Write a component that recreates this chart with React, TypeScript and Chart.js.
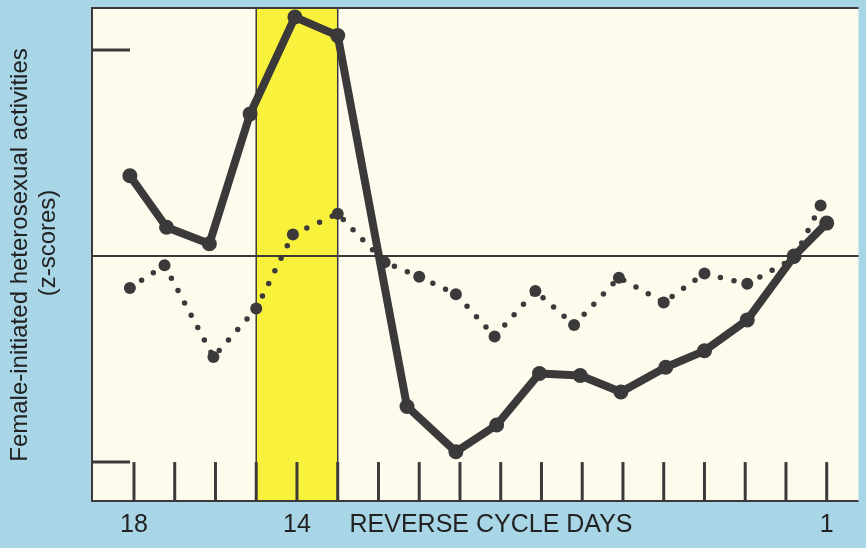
import React, { useEffect, useRef } from "react";
import { Chart, registerables } from "chart.js";

Chart.register(...registerables);

// Reverse cycle days (18 ... 1)
const cycleDays = [18, 17, 16, 15, 14, 13, 12, 11, 10, 9, 8, 7, 6, 5, 4, 3, 2, 1];
const labeledDays = [18, 14, 1];
const xAxisTitle = "REVERSE CYCLE DAYS";
const yTitleLine1 = "Female-initiated heterosexual activities";
const yTitleLine2 = "(z-scores)";

// Solid series (positions as drawn on the day axis) and z-scores
const solidDays = [18.1, 17.2, 16.15, 15.15, 14.05, 13.0, 11.3, 10.1, 9.1, 8.05, 7.05, 6.05, 4.95, 4.0, 2.95, 1.8, 1.0];
const solidZ = [0.39, 0.14, 0.06, 0.69, 1.16, 1.07, -0.73, -0.95, -0.82, -0.57, -0.58, -0.66, -0.54, -0.46, -0.31, 0.0, 0.16];

// Dotted series
const dottedDays = [18.1, 17.25, 16.05, 15.0, 14.1, 13.0, 11.85, 11.0, 10.1, 9.15, 8.15, 7.2, 6.1, 5.0, 4.0, 2.95, 1.8, 1.15];
const dottedZ = [-0.155, -0.045, -0.49, -0.255, 0.105, 0.205, -0.03, -0.1, -0.185, -0.39, -0.17, -0.335, -0.105, -0.225, -0.085, -0.135, -0.01, 0.245];

// Highlighted band (days) and z reference marks
const bandDays = [15, 13];
const zMarks = [1, -1];

const BLUE = "#a8d6e6";
const CREAM = "#fdfbec";
const YELLOW = "#f9f23c";
const INK = "#3b393a";
const TEXT = "#222222";
const FONT = "'Liberation Sans', Arial, sans-serif";

const decorPlugin = {
  id: "decor",
  beforeDraw(chart: any) {
    const { ctx, chartArea: a, scales } = chart;
    const x = scales.x;
    ctx.save();
    ctx.fillStyle = BLUE;
    ctx.fillRect(0, 0, chart.width, chart.height);
    ctx.fillStyle = CREAM;
    ctx.fillRect(a.left, a.top, a.right - a.left, a.bottom - a.top);
    const b1 = x.getPixelForValue(bandDays[0]);
    const b2 = x.getPixelForValue(bandDays[1]);
    ctx.fillStyle = YELLOW;
    ctx.fillRect(Math.min(b1, b2), a.top, Math.abs(b2 - b1), a.bottom - a.top);
    ctx.restore();
  },
  beforeDatasetsDraw(chart: any) {
    const { ctx, chartArea: a, scales } = chart;
    const x = scales.x;
    const y = scales.y;
    ctx.save();
    ctx.strokeStyle = INK;
    // band edges
    ctx.lineWidth = 1.5;
    bandDays.forEach((d) => {
      const px = x.getPixelForValue(d);
      ctx.beginPath();
      ctx.moveTo(px, a.top);
      ctx.lineTo(px, a.bottom);
      ctx.stroke();
    });
    // frame (left, top, bottom)
    ctx.lineWidth = 2;
    ctx.beginPath();
    ctx.moveTo(a.right, a.top);
    ctx.lineTo(a.left, a.top);
    ctx.lineTo(a.left, a.bottom);
    ctx.lineTo(a.right, a.bottom);
    ctx.stroke();
    // zero line
    const y0 = y.getPixelForValue(0);
    ctx.lineWidth = 2;
    ctx.beginPath();
    ctx.moveTo(a.left, y0);
    ctx.lineTo(a.right, y0);
    ctx.stroke();
    // z marks on left
    const yLow = y.getPixelForValue(Math.min(...zMarks));
    ctx.lineWidth = 3;
    zMarks.forEach((z) => {
      const py = y.getPixelForValue(z);
      ctx.beginPath();
      ctx.moveTo(a.left, py);
      ctx.lineTo(a.left + 38, py);
      ctx.stroke();
    });
    // day ticks
    cycleDays.forEach((d) => {
      const px = x.getPixelForValue(d);
      ctx.beginPath();
      ctx.moveTo(px, yLow);
      ctx.lineTo(px, a.bottom);
      ctx.stroke();
    });
    ctx.restore();
  },
  afterDraw(chart: any) {
    const { ctx, chartArea: a, scales } = chart;
    const x = scales.x;
    ctx.save();
    ctx.fillStyle = TEXT;
    ctx.font = `25px ${FONT}`;
    ctx.textBaseline = "alphabetic";
    ctx.textAlign = "center";
    const baseY = a.bottom + 31;
    labeledDays.forEach((d) => {
      ctx.fillText(String(d), x.getPixelForValue(d), baseY);
    });
    ctx.fillText(xAxisTitle, 491, baseY);
    // y title
    ctx.font = `24px ${FONT}`;
    ctx.textBaseline = "alphabetic";
    ctx.save();
    ctx.translate(27, 255);
    ctx.rotate(-Math.PI / 2);
    ctx.fillText(yTitleLine1, 0, 0);
    ctx.restore();
    ctx.save();
    ctx.translate(55, 243);
    ctx.rotate(-Math.PI / 2);
    ctx.fillText(yTitleLine2, 0, 0);
    ctx.restore();
    ctx.restore();
  },
};

export default function App() {
  const ref = useRef<HTMLCanvasElement | null>(null);
  useEffect(() => {
    if (!ref.current) return;
    const chart = new Chart(ref.current, {
      type: "line",
      data: {
        datasets: [
          {
            label: "solid",
            data: solidDays.map((d, i) => ({ x: d, y: solidZ[i] })),
            borderColor: INK,
            backgroundColor: INK,
            borderWidth: 8,
            borderJoinStyle: "round",
            borderCapStyle: "round",
            pointRadius: 7.5,
            pointBorderWidth: 0,
            pointBackgroundColor: INK,
            tension: 0,
          },
          {
            label: "dotted",
            data: dottedDays.map((d, i) => ({ x: d, y: dottedZ[i] })),
            borderColor: INK,
            backgroundColor: INK,
            borderWidth: 5.5,
            borderDash: [0, 14],
            borderCapStyle: "round",
            pointRadius: 6,
            pointBorderWidth: 0,
            pointBackgroundColor: INK,
            tension: 0,
          },
        ],
      },
      options: {
        responsive: false,
        animation: false,
        events: [],
        layout: { padding: { left: 92, top: 8, right: 4, bottom: 47 } },
        plugins: { legend: { display: false }, tooltip: { enabled: false } },
        scales: {
          x: { type: "linear", display: false, reverse: true, min: 0.22, max: 19.03 },
          y: { type: "linear", display: false, min: -1.189, max: 1.204 },
        },
      },
      plugins: [decorPlugin],
    } as any);
    return () => chart.destroy();
  }, []);
  return (
    <div style={{ position: "fixed", left: 0, top: 0, width: 866, height: 548 }}>
      <canvas ref={ref} width={866} height={548} />
    </div>
  );
}
